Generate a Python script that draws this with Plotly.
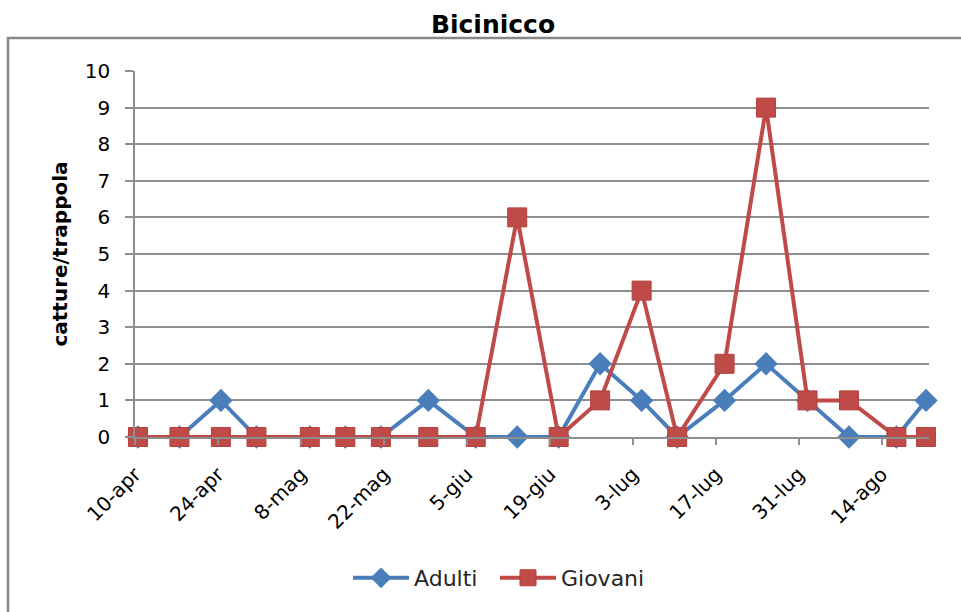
import pandas as pd
import plotly.graph_objects as go

# Data
dates = ["2013-04-10", "2013-04-17", "2013-04-24", "2013-04-30", "2013-05-09",
         "2013-05-15", "2013-05-21", "2013-05-29", "2013-06-06", "2013-06-13",
         "2013-06-20", "2013-06-27", "2013-07-04", "2013-07-10", "2013-07-18",
         "2013-07-25", "2013-08-01", "2013-08-08", "2013-08-16", "2013-08-21"]
adulti = [0, 0, 1, 0, 0, 0, 0, 1, 0, 0, 0, 2, 1, 0, 1, 2, 1, 0, 0, 1]
giovani = [0, 0, 0, 0, 0, 0, 0, 0, 0, 6, 0, 1, 4, 0, 2, 9, 1, 1, 0, 0]

tick_dates = ["2013-04-10", "2013-04-24", "2013-05-08", "2013-05-22", "2013-06-05",
              "2013-06-19", "2013-07-03", "2013-07-17", "2013-07-31", "2013-08-14"]
tick_labels = ["10-apr", "24-apr", "8-mag", "22-mag", "5-giu",
               "19-giu", "3-lug", "17-lug", "31-lug", "14-ago"]

# Excel date axis: each day occupies a slot; ticks fall on slot boundaries
half_day = pd.Timedelta(hours=12)
tickvals = [pd.Timestamp(d) - half_day for d in tick_dates]
x_min = pd.Timestamp(dates[0]) - half_day
x_max = pd.Timestamp(dates[-1]) + half_day

BLUE = "#4A7EBB"
RED = "#BE4B48"
GRID = "#8E8E8E"
FONT = "DejaVu Sans"

fig = go.Figure()
fig.add_trace(go.Scatter(
    x=dates, y=adulti, name="Adulti", mode="lines+markers",
    line=dict(color=BLUE, width=4),
    marker=dict(symbol="diamond", size=18, color=BLUE),
    cliponaxis=False, legend="legend",
))
fig.add_trace(go.Scatter(
    x=dates, y=giovani, name="Giovani", mode="lines+markers",
    line=dict(color=RED, width=4),
    marker=dict(symbol="square", size=19, color=RED,
                line=dict(color="#B5403D", width=1)),
    cliponaxis=False, legend="legend2",
))

L, R, T, B = 135, 32, 71, 175
W, H = 961, 612
pw, ph = W - L - R, H - T - B

legend_style = dict(orientation="h", xref="container", yref="container",
                    xanchor="left", y=1 - 578 / H, yanchor="middle",
                    font=dict(size=22, color="#262626", family=FONT),
                    itemwidth=56, bgcolor="rgba(0,0,0,0)")

fig.update_layout(
    width=W, height=H,
    margin=dict(l=L, r=R, t=T, b=B),
    paper_bgcolor="white", plot_bgcolor="white",
    font=dict(family=FONT, color="#000000"),
    title=dict(text="<b>Bicinicco</b>", x=493 / W, xanchor="center",
               y=1 - 24 / H, yanchor="middle", yref="container",
               font=dict(size=25, color="#000000", family=FONT)),
    showlegend=True,
    legend=dict(x=348 / W, **legend_style),
    legend2=dict(x=495 / W, **legend_style),
    xaxis=dict(
        type="date", range=[x_min, x_max],
        tickmode="array", tickvals=tickvals, ticktext=tick_labels,
        tickangle=-45, tickfont=dict(size=20, color="#000000", family=FONT),
        ticks="outside", ticklen=6, tickcolor=GRID, tickwidth=1.5,
        ticklabelstandoff=10,
        showgrid=False, showline=True, linecolor=GRID, linewidth=1.5,
        zeroline=False, fixedrange=True,
    ),
    yaxis=dict(
        range=[0, 10], tickmode="linear", tick0=0, dtick=1,
        tickfont=dict(size=20, color="#000000", family=FONT),
        ticks="outside", ticklen=8, tickcolor=GRID, tickwidth=1.5,
        ticklabelstandoff=11,
        showgrid=True, gridcolor=GRID, gridwidth=1.5,
        showline=True, linecolor=GRID, linewidth=1.5,
        zeroline=False,
        title=dict(text="<b>catture/trappola</b>", standoff=12,
                   font=dict(size=20, color="#000000", family=FONT)),
    ),
    shapes=[dict(
        type="rect", xref="paper", yref="paper",
        x0=(8 - L) / pw, x1=(W + 20 - L) / pw,
        y0=-(H + 20 - (H - B)) / ph, y1=((H - B) - 38) / ph,
        line=dict(color="#878787", width=2.5), fillcolor="rgba(0,0,0,0)",
        layer="below",
    )],
)

fig.write_html("out.html", config={"displayModeBar": False},
               post_script="document.body.style.margin='0';document.body.style.overflow='hidden';")
